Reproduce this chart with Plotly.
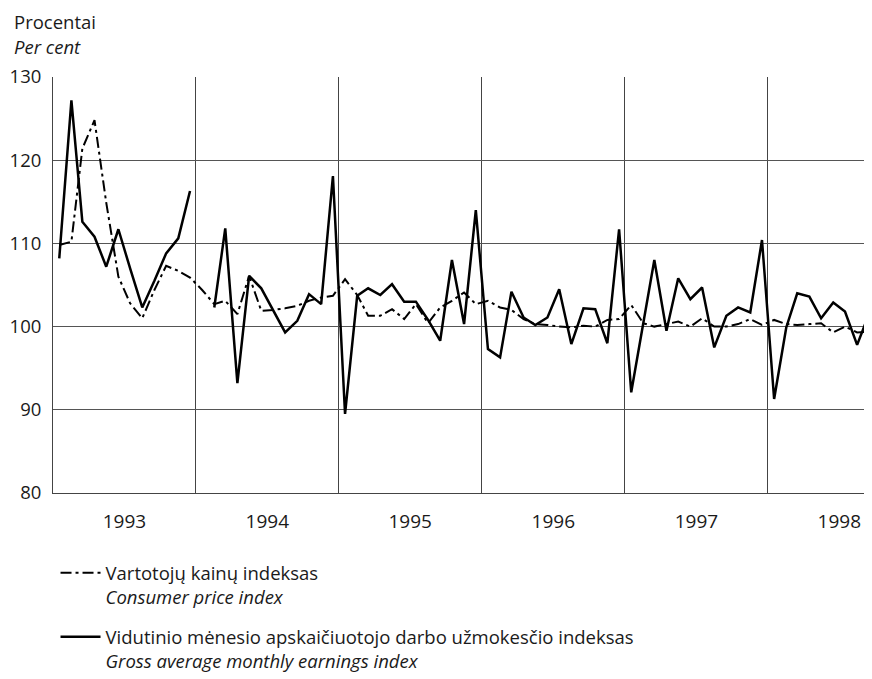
import pandas as pd
import plotly.graph_objects as go

# Monthly index values (previous month = 100)
cpi_1993 = [109.8, 110.2, 121.4, 124.8, 114.9, 106.0, 102.8, 101.0, 104.4, 107.3, 106.7, 105.9]
cpi_1994 = [104.4, 102.7, 103.1, 101.5, 106.1, 101.9, 102.0, 102.2, 102.5, 103.1, 103.5, 103.7]
cpi_1995 = [105.7, 103.8, 101.3, 101.3, 102.1, 100.9, 102.7, 100.4, 102.3, 103.1, 104.1, 102.7]
cpi_1996 = [103.1, 102.3, 102.0, 100.9, 100.3, 100.2, 100.0, 99.9, 100.1, 100.0, 100.8, 100.9]
cpi_1997 = [102.6, 100.4, 100.0, 100.3, 100.6, 100.0, 101.0, 100.0, 100.0, 100.3, 100.9, 100.2]
cpi_1998 = [100.8, 100.3, 100.2, 100.3, 100.4, 99.3, 100.0, 99.3, 99.4, 99.6]

earn_1993 = [108.2, 127.2, 112.6, 110.8, 107.2, 111.7, 107.0, 102.3, 105.5, 108.8, 110.6, 116.3]
earn_1994 = [None, 102.3, 111.8, 93.2, 106.1, 104.6, 102.0, 99.3, 100.7, 103.9, 102.7, 118.1]
earn_1995 = [89.5, 103.7, 104.6, 103.8, 105.1, 103.0, 103.0, 100.8, 98.3, 108.0, 100.3, 114.0]
earn_1996 = [97.3, 96.3, 104.2, 101.1, 100.2, 101.1, 104.5, 97.9, 102.2, 102.1, 98.0, 111.7]
earn_1997 = [92.1, 100.3, 108.0, 99.5, 105.8, 103.3, 104.7, 97.5, 101.3, 102.3, 101.7, 110.4]
earn_1998 = [91.3, 99.9, 104.0, 103.6, 101.0, 102.9, 101.8, 97.8, 101.6, 100.6]

cpi = cpi_1993 + cpi_1994 + cpi_1995 + cpi_1996 + cpi_1997 + cpi_1998
earn = earn_1993 + earn_1994 + earn_1995 + earn_1996 + earn_1997 + earn_1998

months = pd.date_range("1993-01-01", periods=len(cpi), freq="MS") + pd.Timedelta(days=16)

cpi_name = "Vartotojų kainų indeksas<br><i>Consumer price index</i>"
earn_name = ("Vidutinio mėnesio apskaičiuotojo darbo užmokesčio indeksas<br>"
             "<i>Gross average monthly earnings index</i>")

y_ticks = [80, 90, 100, 110, 120, 130]

FONT = "Open Sans"
TXT = "#1a1a1a"

fig = go.Figure()
fig.add_trace(go.Scatter(
    x=months, y=cpi, mode="lines", name=cpi_name, legendgroup="a",
    line=dict(color="black", width=2, dash="11px,4px,3px,4px"),
))
fig.add_trace(go.Scatter(
    x=months, y=earn, mode="lines", name=earn_name, legendgroup="b",
    line=dict(color="black", width=2.5), connectgaps=False,
))

# the page body adds an 8 px offset, so the figure is 8 px smaller each way
fig.update_layout(
    width=864, height=671,
    margin=dict(l=45, r=0, t=69, b=186, autoexpand=False),
    paper_bgcolor="white", plot_bgcolor="white",
    font=dict(family=FONT, size=18.5, color=TXT),
    showlegend=True,
    legend=dict(
        xref="container", yref="container",
        x=0.055, xanchor="left", y=0.186, yanchor="top",
        valign="top", tracegroupgap=13, bgcolor="rgba(0,0,0,0)",
        font=dict(family=FONT, size=18.5, color=TXT),
        itemwidth=40,
    ),
    annotations=[
        dict(xref="paper", yref="paper", x=-0.05, y=1.1346,
             xanchor="left", yanchor="middle", showarrow=False,
             text="Procentai", font=dict(family=FONT, size=18.5, color=TXT)),
        dict(xref="paper", yref="paper", x=-0.05, y=1.0745,
             xanchor="left", yanchor="middle", showarrow=False,
             text="<i>Per cent</i>", font=dict(family=FONT, size=18.5, color=TXT)),
    ],
)

fig.update_xaxes(
    type="date", automargin=False,
    range=["1993-01-01", "1998-09-24"],
    tick0="1993-01-01", dtick="M12", tickformat="%Y",
    ticklabelmode="period",
    showgrid=True, gridcolor="#444", gridwidth=1,
    showline=True, linecolor="#444", linewidth=1,
    ticks="", ticklabelstandoff=11,
    tickfont=dict(family=FONT, size=19, color=TXT),
    zeroline=False,
)
fig.update_yaxes(
    range=[80, 130], tickvals=y_ticks, automargin=False,
    showgrid=True, gridcolor="#555", gridwidth=1,
    showline=True, linecolor="#444", linewidth=1,
    ticks="", ticklabelstandoff=7,
    tickfont=dict(family=FONT, size=18.5, color=TXT),
    zeroline=False,
)

fig.write_html("out.html")
